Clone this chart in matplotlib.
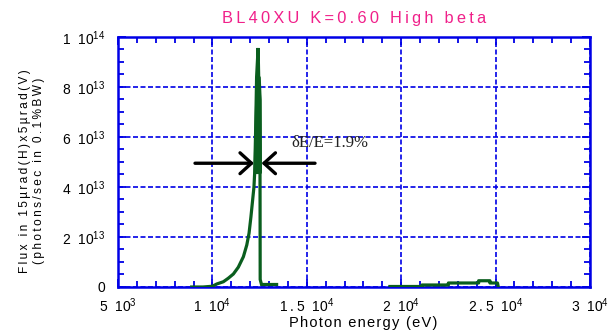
import matplotlib
matplotlib.use("Agg")
import matplotlib.pyplot as plt
from matplotlib.ticker import FixedLocator, MultipleLocator

plt.rcParams['font.family'] = ['Liberation Sans', 'DejaVu Sans']
plt.rcParams['mathtext.fontset'] = 'custom'
plt.rcParams['mathtext.rm'] = 'Liberation Sans'
plt.rcParams['mathtext.it'] = 'Liberation Sans'

TS = "\u2009"
HS = "\u200a"

def spaced(s, sep=TS):
    return sep.join(list(s))

# ---- data (flux in units of 1e13 photons/s/0.1%BW) ----
energy_main = [8900, 9500, 10000, 10230, 10580, 10840, 11110, 11370, 11640,
               11820, 11940, 12040, 12130, 12200, 12240, 12290, 12340,
               12420, 12450, 12500, 12520, 12530, 12600, 13400]
flux_main = [0.0, 0.0, 0.03, 0.12, 0.21, 0.35, 0.52, 0.79, 1.21,
             1.68, 2.15, 2.81, 3.48, 4.0, 4.6, 6.3, 8.4,
             9.56, 8.4, 7.5, 5.0, 0.3, 0.1, 0.1]
# fine-structure band around the peak (left / right envelope)
band_flux = [4.6, 5.5, 6.5, 7.5, 8.4]
band_left = [12240, 12260, 12290, 12320, 12340]
band_right = [12515, 12510, 12505, 12500, 12450]

energy_h3 = [19400, 21100, 21100, 22500, 22500, 24100, 24100, 24700, 24700,
             25100, 25150]
flux_h3 = [0.02, 0.02, 0.08, 0.08, 0.16, 0.16, 0.25, 0.25, 0.16, 0.16, -0.03]

x_ticks = [5000, 10000, 15000, 20000, 25000, 30000]
x_mant = ["5", "1", "1.5", "2", "2.5", "3"]
x_exp = ["3", "4", "4", "4", "4", "4"]
y_ticks = [0, 2e13, 4e13, 6e13, 8e13, 1e14]
y_mant = ["0", "2", "4", "6", "8", "1"]
y_exp = [None, "13", "13", "13", "13", "14"]

arrow_y = 4.95e13
arrow_left = (9078, 12200)
arrow_right = (15434, 12600)
annot_text = "δE/E=1.9%"
annot_pos = (14200, 5.75e13)

title = "BL40XU K=0.60 High beta"
xlabel = "Photon energy (eV)"
ylabel1 = "Flux in 15µrad(H)x5µrad(V)"
ylabel2 = "(photons/sec in 0.1%BW)"

BLUE = "#0000e6"
GREEN = "#0a5e1e"
PINK = "#f0208a"

fig = plt.figure(figsize=(6.16, 3.35), dpi=100)
ax = fig.add_axes([0.1916, 0.1433, 0.7662, 0.7463])

ax.plot(energy_main, [v * 1e13 for v in flux_main], color=GREEN, lw=2.3,
        solid_joinstyle='miter', zorder=3)
ax.fill_betweenx([v * 1e13 for v in band_flux], band_left, band_right,
                 color=GREEN, lw=2.3, edgecolor=GREEN, zorder=3)
ax.plot(energy_h3, [v * 1e13 for v in flux_h3], color=GREEN, lw=2.3, zorder=3)

ax.set_xlim(5000, 30000)
ax.set_ylim(0, 1e14)


def lab(m, e, sep):
    if e is None:
        return m
    return spaced(m, sep) + "  10$^{" + e + "}$"


ax.xaxis.set_major_locator(FixedLocator(x_ticks))
ax.set_xticklabels([lab(m, e, TS) for m, e in zip(x_mant, x_exp)])
ax.xaxis.set_minor_locator(MultipleLocator(1000))
ax.yaxis.set_major_locator(FixedLocator(y_ticks))
ax.set_yticklabels([lab(m, e, TS) for m, e in zip(y_mant, y_exp)])
ax.yaxis.set_minor_locator(MultipleLocator(5e12))

ax.tick_params(which='both', direction='in', top=True, right=True,
               color=BLUE, labelsize=10, labelcolor='black')
ax.tick_params(which='major', length=6, width=1.3)
ax.tick_params(which='minor', length=4, width=1.3)
ax.tick_params(axis='x', pad=7)
ax.tick_params(axis='y', pad=9)

for sp in ax.spines.values():
    sp.set_color(BLUE)
    sp.set_linewidth(1.8)

ax.grid(True, which='major', color=BLUE, lw=1.2, ls=(0, (3, 1.5)))
ax.set_axisbelow(True)

# FWHM arrows
for x0, x1 in [arrow_left, arrow_right]:
    ax.annotate("", xy=(x1, arrow_y), xytext=(x0, arrow_y),
                arrowprops=dict(arrowstyle="->,head_length=0.55,head_width=0.5",
                                color='black', lw=2.4, mutation_scale=15,
                                shrinkA=0, shrinkB=0), zorder=4)
ax.text(annot_pos[0], annot_pos[1], annot_text, family=['Liberation Serif', 'DejaVu Serif'],
        fontsize=12, va='center', ha='left', color='#222222', zorder=2)

fig.text(0.5747, 0.945, spaced(title), color=PINK, fontsize=11.8,
         ha='center', va='center')
ax.set_xlabel(spaced(xlabel, HS), fontsize=10.5, labelpad=3)
ax.xaxis.set_label_coords(0.519, -0.115)
fig.text(0.052, 0.49, spaced(ylabel1) + "\n" + spaced(ylabel2),
         rotation=90, fontsize=8.6, ha='center', va='center', multialignment='center',
         linespacing=1.3)

fig.savefig("out.png", dpi=100)
